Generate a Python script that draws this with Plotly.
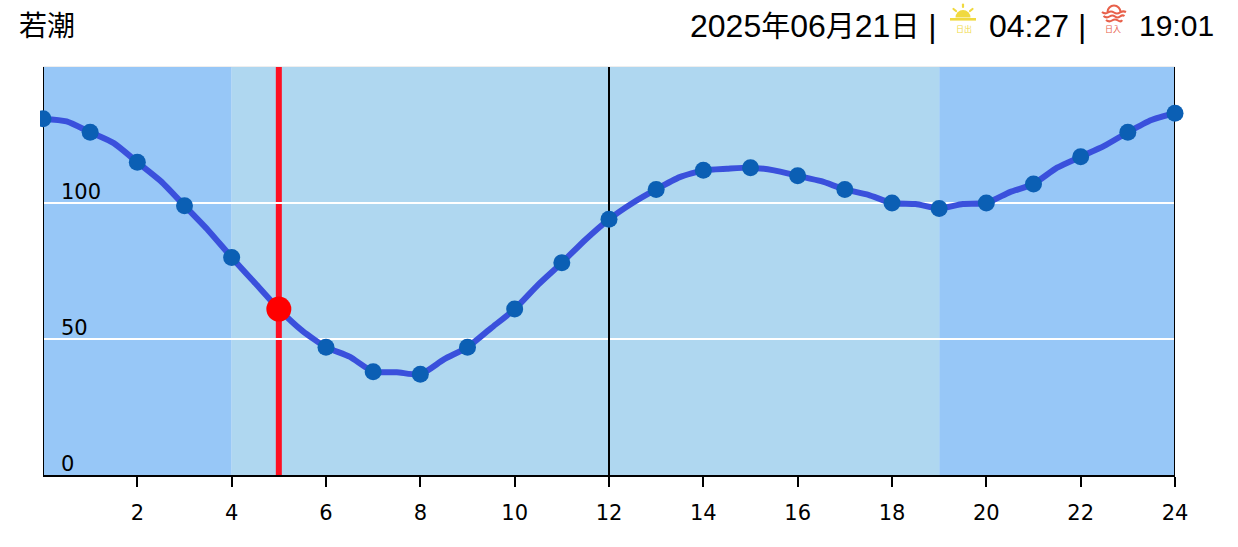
import base64
import plotly.graph_objects as go

# ---- data ----
hours = list(range(0, 25))
tide = [131, 126, 115, 99, 80, 61, 47, 38, 37, 47, 61, 78, 94, 105, 112, 113, 110, 105, 100, 98, 100, 107, 117, 126, 133]
line_hours = [0, 0.5, 1, 1.5, 2, 2.5, 3, 3.5, 4, 4.5, 5, 5.5, 6, 6.5, 7, 7.5, 8, 8.5, 9, 9.5, 10, 10.5, 11, 11.5, 12,
              12.5, 13, 13.5, 14, 14.5, 15, 15.5, 16, 16.5, 17, 17.5, 18, 18.5, 19, 19.5, 20, 20.5, 21, 21.5, 22, 22.5, 23, 23.5, 24]
line_tide = [131, 130, 126, 122, 115, 108, 99, 90, 80, 70.5, 61, 53, 47, 43.5, 38, 37.8, 37, 42.5, 47, 54, 61, 70, 78, 86.5, 94,
             100, 105, 109.5, 112, 112.6, 113, 112, 110, 108, 105, 103, 100, 99.6, 98, 99.6, 100, 104, 107, 113, 117, 121, 126, 130.5, 133]
current_hour = 5
current_tide = 61
night_spans = [(0, 4), (19, 24)]
day_span = (4, 19)
noon_marks = [0, 12, 24]
x_ticks = list(range(2, 25, 2))
y_ticks = [0, 50, 100]
y_grid = [50, 100]
title_text = "若潮"
date_parts = ["2025", "年", "06", "月", "21", "日"]
sunrise_text = "04:27 |"
sunset_text = "19:01"
sunrise_label = "日出"
sunset_label = "日入"

# ---- layout constants ----
W, H = 1238, 547
L, R, T, B = 43, 63, 67, 72
DARK, LIGHT = "#97c7f7", "#afd7f0"
SANS = "Liberation Sans, Noto Sans CJK JP"
TICK = "DejaVu Sans"
YELLOW, CORAL = "#f0d93f", "#e8604a"

def px(x):
    return (x - L) / (W - L - R)

def py(y):
    return 1 - (y - T) / (H - T - B)

def data_uri(svg):
    return "data:image/svg+xml;base64," + base64.b64encode(svg.encode()).decode()

sun_svg = f'''<svg xmlns="http://www.w3.org/2000/svg" width="28" height="20" viewBox="0 0 28 20">
<path d="M6.5 14.5 A7.5 7.5 0 0 1 21.5 14.5 Z" fill="{YELLOW}"/>
<rect x="1" y="15" width="26" height="2.6" fill="{YELLOW}"/>
<g stroke="{YELLOW}" stroke-width="2.2" stroke-linecap="round">
<line x1="14" y1="1.5" x2="14" y2="4"/><line x1="4.5" y1="6" x2="7" y2="8"/><line x1="23.5" y1="6" x2="21" y2="8"/>
</g></svg>'''
set_svg = f'''<svg xmlns="http://www.w3.org/2000/svg" width="28" height="20" viewBox="0 0 28 20">
<path d="M7.5 8 A6.5 6.5 0 0 1 20.5 8" fill="none" stroke="{CORAL}" stroke-width="2.1"/>
<g fill="none" stroke="{CORAL}" stroke-width="2.1">
<path d="M2 8 Q5 10.5 8 8.5 T14 8.5 T20 8.5 T26 8"/>
<path d="M3.5 12 Q6.5 14.5 9.5 12.5 T15 12.5 T20 12.5 T24.5 12"/>
<path d="M6 16 Q9 18.5 12 16.5 T18 16.5 T22 16"/>
</g></svg>'''

fig = go.Figure()
fig.add_trace(go.Scatter(x=line_hours, y=line_tide, mode="lines", cliponaxis=False, hoverinfo="skip",
                         line=dict(color="#3a50dc", width=6, shape="spline", smoothing=0.6)))
fig.add_trace(go.Scatter(x=hours, y=tide, mode="markers", cliponaxis=False,
                         marker=dict(color="#0b5fb4", size=17)))
fig.add_trace(go.Scatter(x=[current_hour], y=[current_tide], mode="markers", cliponaxis=False,
                         marker=dict(color="#ff0000", size=25)))

shapes = []
for a, b in night_spans:
    shapes.append(dict(type="rect", xref="x", yref="y", x0=a, x1=b, y0=0, y1=150, fillcolor=DARK, line_width=0, layer="below"))
shapes.append(dict(type="rect", xref="x", yref="y", x0=day_span[0], x1=day_span[1], y0=0, y1=150, fillcolor=LIGHT, line_width=0, layer="below"))
shapes.append(dict(type="line", xref="x", yref="y", x0=current_hour, x1=current_hour, y0=0, y1=150,
                   line=dict(color="#fe0f22", width=6), layer="below"))
for n in noon_marks:
    shapes.append(dict(type="line", xref="x", yref="y", x0=n, x1=n, y0=0, y1=150,
                       line=dict(color="#000000", width=2), layer="between"))
shapes.append(dict(type="line", xref="paper", yref="paper", x0=px(43), x1=px(1175), y0=py(67), y1=py(67),
                   line=dict(color="#e8e8e8", width=1.5), layer="below"))
# the first marker is cut off a little left of the axis
shapes.append(dict(type="rect", xref="paper", yref="paper", x0=px(25), x1=px(40), y0=py(135), y1=py(100),
                   fillcolor="#ffffff", line_width=0, layer="above"))

annotations = [dict(x=0, y=v, xref="x", yref="y", text=str(v), showarrow=False, xanchor="left", yanchor="bottom",
                    xshift=16, yshift=-3, font=dict(family=TICK, size=21, color="#000000")) for v in y_ticks]

def head(x, y, text, size, anchor="left", color="#000000", family=SANS):
    return dict(x=px(x), y=py(y), xref="paper", yref="paper", text=text, showarrow=False, xanchor=anchor, yanchor="middle",
                font=dict(family=family, size=size, color=color))

date_text = "".join(p if p.isdigit() else f"<span style='font-size:29px'>{p}</span>" for p in date_parts) + " |"

annotations += [
    head(17, 24, title_text, 28, family="Noto Sans CJK JP"),
    head(688, 26, date_text, 32),
    head(987, 26, sunrise_text, 32),
    head(1216, 26, sunset_text, 30, anchor="right"),
    head(963.5, 29, sunrise_label, 8, anchor="center", color=YELLOW, family="Noto Sans CJK JP"),
    head(1113, 29, sunset_label, 8, anchor="center", color=CORAL, family="Noto Sans CJK JP"),
]

images = [
    dict(source=data_uri(sun_svg), xref="paper", yref="paper", x=px(949), y=py(3), sizex=28 / (W - L - R), sizey=20 / (H - T - B),
         xanchor="left", yanchor="top", sizing="stretch", layer="above"),
    dict(source=data_uri(set_svg), xref="paper", yref="paper", x=px(1100), y=py(4), sizex=28 / (W - L - R), sizey=20 / (H - T - B),
         xanchor="left", yanchor="top", sizing="stretch", layer="above"),
]

fig.update_layout(
    width=W, height=H, autosize=False, showlegend=False,
    margin=dict(l=L, r=R, t=T, b=B, pad=0),
    paper_bgcolor="#ffffff", plot_bgcolor="#ffffff",
    shapes=shapes, annotations=annotations, images=images,
    xaxis=dict(range=[0, 24], tickmode="array", tickvals=x_ticks, ticktext=[str(t) for t in x_ticks],
               ticks="outside", ticklen=10, tickwidth=1.5, tickcolor="#000000", showgrid=False, zeroline=False,
               showline=True, linecolor="#000000", linewidth=2, ticklabelstandoff=8,
               tickfont=dict(family=TICK, size=21, color="#000000")),
    yaxis=dict(range=[0, 150], tickmode="array", tickvals=y_grid, showticklabels=False, ticks="",
               showgrid=True, gridcolor="#ffffff", gridwidth=1.5, zeroline=False, showline=False),
)

fig.write_html("out.html", config=dict(displayModeBar=False),
               post_script="document.body.style.margin='0';document.body.style.overflow='hidden';")
